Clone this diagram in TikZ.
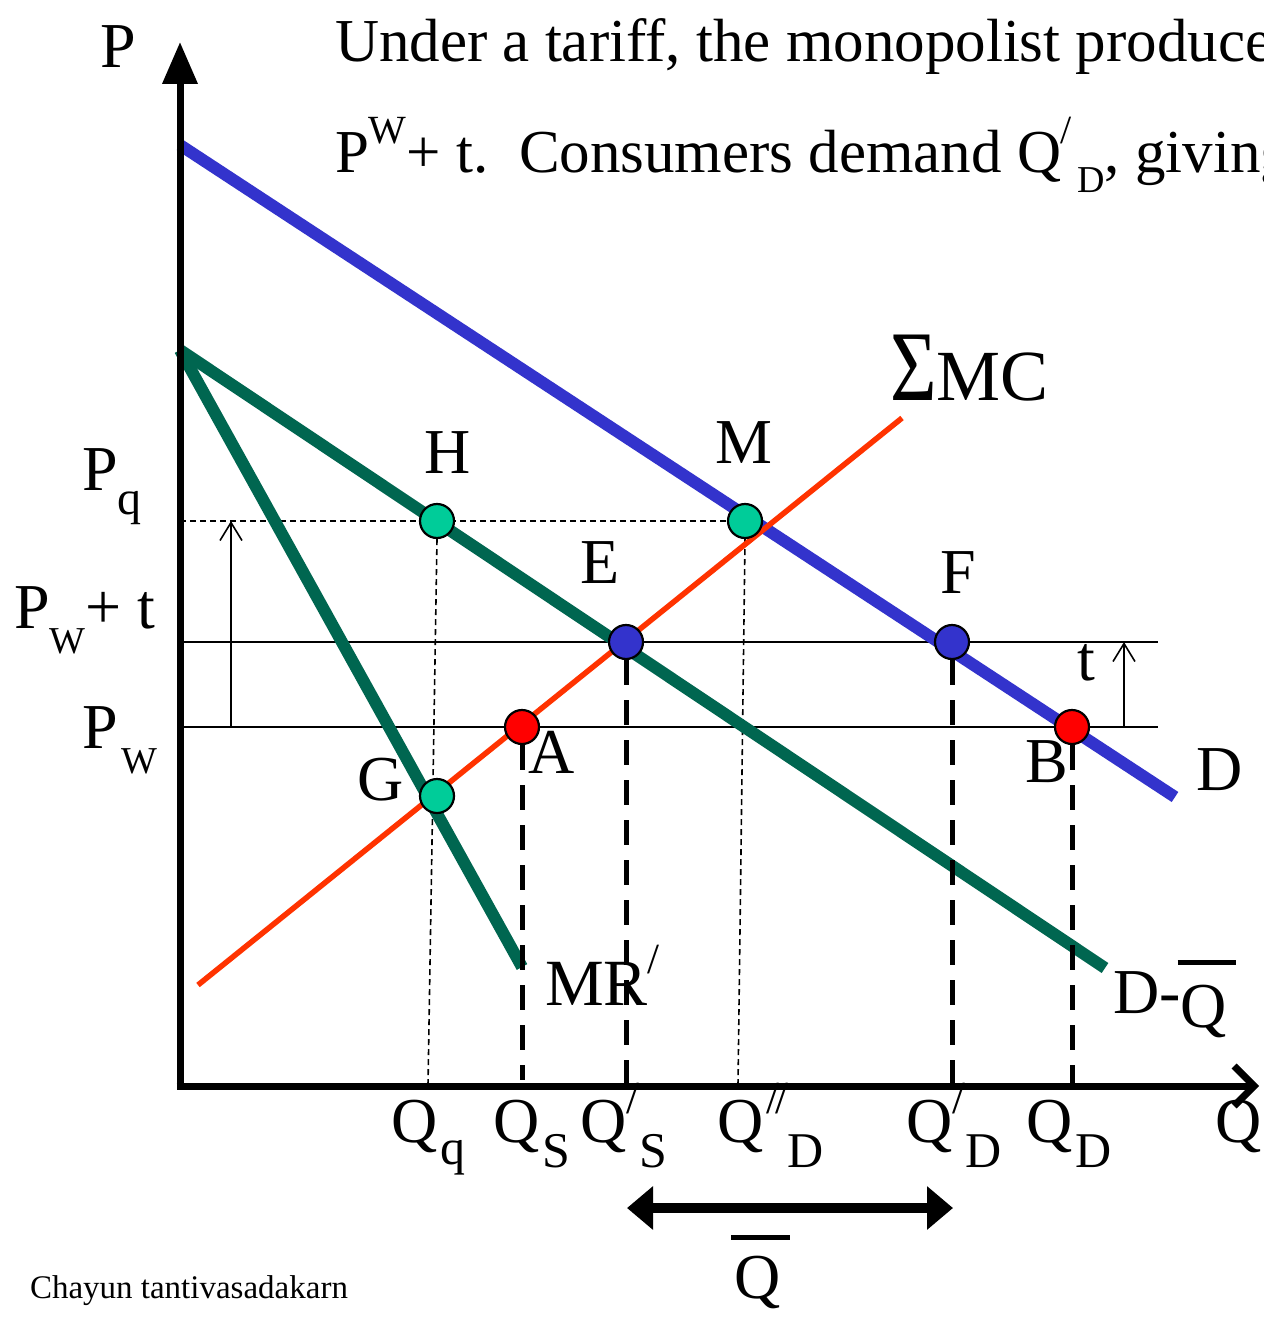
\documentclass[tikz,border=0pt]{standalone}
\usepackage{fontspec}
\setmainfont{Liberation Serif}
\usetikzlibrary{arrows.meta}
\definecolor{dblue}{HTML}{3333CC}
\definecolor{dgreen}{HTML}{006650}
\definecolor{mcred}{HTML}{FF3300}
\definecolor{tealdot}{HTML}{00CC99}
\definecolor{reddot}{HTML}{FF0000}
\newcommand{\fs}[1]{\fontsize{#1}{#1}\selectfont}
\frenchspacing
\begin{document}
\begin{tikzpicture}[x=1pt,y=-1pt,
  dot/.style={circle,draw=black,line width=2.2pt,minimum size=34pt,inner sep=0pt},
  lbl/.style={anchor=base west,inner sep=0pt,outer sep=0pt,font=\fs{64}},
  axis/.style={line width=7pt},
  curve/.style={line width=12pt},
  level/.style={line width=2pt},
  thindash/.style={line width=1.6pt,dash pattern=on 6pt off 4pt},
  thickdash/.style={line width=5pt,dash pattern=on 25pt off 15pt},
  uparrow/.style={line width=1.6pt,-{Straight Barb[length=18pt,width=22pt,line width=1.6pt]}}
]
\useasboundingbox (0,0) rectangle (1263,1319);
\fill[white] (0,0) rectangle (1263,1319);

% coordinates
\coordinate (Ybot) at (180,1089.5);
\coordinate (Ytop) at (180,42);
\coordinate (Xbeg) at (176.5,1086);
\coordinate (Xend) at (1259,1086);
\coordinate (Dl) at (180,145);
\coordinate (Dr) at (1175,797);
\coordinate (Gl) at (180,350);
\coordinate (DQr) at (1105,968);
\coordinate (MRr) at (522,967);
\coordinate (MCl) at (198,985);
\coordinate (MCr) at (902,418);
\coordinate (PWt0) at (180,642);
\coordinate (PWt1) at (1158,642);
\coordinate (PW0) at (180,727);
\coordinate (PW1) at (1158,727);
\coordinate (Pq0) at (180,521);
\coordinate (La0) at (231,727);
\coordinate (La1) at (231,521);
\coordinate (Ra0) at (1124,727);
\coordinate (Ra1) at (1124,642);
\coordinate (Hq) at (428,1085);
\coordinate (Mq) at (738,1085);
\coordinate (Aq) at (522,1080);
\coordinate (Eq) at (626,1083);
\coordinate (Fq) at (952,1083);
\coordinate (Bq) at (1072,1085);
\coordinate (Qb0) at (627,1208);
\coordinate (Qb1) at (953,1208);

% dot nodes (placed first as names, drawn again on top)
\path (437,521) node[dot,draw=none] (H) {}
      (745,521) node[dot,draw=none] (M) {}
      (626,642) node[dot,draw=none] (E) {}
      (952,642) node[dot,draw=none] (F) {}
      (522,727) node[dot,draw=none] (A) {}
      (1072,727) node[dot,draw=none] (B) {}
      (437,796) node[dot,draw=none] (G) {};

% price levels
\draw[level] (PWt0) -- (PWt1);
\draw[level] (PW0) -- (PW1);
\draw[thindash] (Pq0) -- (M.west);
\draw[uparrow] (La0) -- (La1);
\draw[uparrow] (Ra0) -- (Ra1);
\draw[thindash] (H.south) -- (Hq);
\draw[thindash] (M.south) -- (Mq);

% curves
\draw[curve,dblue] (Dl) -- (Dr);
\draw[curve,dgreen] (Gl) -- (DQr);
\draw[curve,dgreen] (Gl) -- (MRr);
\draw[line width=5.5pt,mcred] (MCl) -- (MCr);

% thick dashed quantity lines
\draw[thickdash] (A.south) -- (Aq);
\draw[thickdash] (E.south) -- (Eq);
\draw[thickdash] (F.south) -- (Fq);
\draw[thickdash] (B.south) -- (Bq);

% axes
\draw[axis,-{Triangle[length=42pt,width=34pt]}] (Ybot) -- (Ytop);
\draw[axis,-{Straight Barb[length=20pt,width=40pt,line width=7pt]}] (Xbeg) -- (Xend);

% dots
\node[dot,fill=tealdot] at (H) {};
\node[dot,fill=tealdot] at (M) {};
\node[dot,fill=dblue] at (E) {};
\node[dot,fill=dblue] at (F) {};
\node[dot,fill=reddot] at (A) {};
\node[dot,fill=reddot] at (B) {};
\node[dot,fill=tealdot] at (G) {};

% double arrow Qbar
\draw[line width=10pt,{Triangle[length=26pt,width=42pt]}-{Triangle[length=26pt,width=42pt]}] (Qb0) -- (Qb1);

% title text
\node[lbl,font=\fs{61}] (t1) at (335,62) {Under a tariff, the monopolist produce};
\node[lbl,font=\fs{61}] (t2) at (335,172) {P\raisebox{29pt}{\fs{40}W}+ t.\ \ Consumers demand Q\kern-1pt\raisebox{29pt}{\fs{40}/}\kern6pt\raisebox{-20pt}{\fs{38}D}, giving};

% axis labels
\node[lbl] (Plab) at (100,68) {P};
\node[lbl] (Qlab) at (1215,1142) {Q};

% price labels
\node[lbl] (Pq) at (82,490) {P\raisebox{-24pt}{\fs{48}q}};
\node[lbl] (Pwt) at (14,628) {P\raisebox{-25pt}{\fs{38}W}+ t};
\node[lbl] (Pw) at (82,748) {P\kern4pt\raisebox{-25pt}{\fs{38}W}};

% point labels
\node[lbl] (Hl) at (424,473) {H};
\node[lbl] (Ml) at (715,463) {M};
\node[lbl] (El) at (580,583) {E};
\node[lbl] (Fl) at (940,593) {F};
\node[lbl] (Al) at (528,773) {A};
\node[lbl] (Bl) at (1025,782) {B};
\node[lbl] (Gl2) at (357,800) {G};
\node[lbl] (tl) at (1077,680) {t};
\node[lbl] (Dlab) at (1196,790) {D};

% curve labels
\node[lbl] (MClab) at (890,400) {\scalebox{0.8}[1]{\fs{100}Σ}\fs{72}MC};
\node[lbl,font=\fs{66}] (MRlab) at (545,1005) {MR\raisebox{32pt}{\fs{43}/}};
\node[lbl] (DQlab) at (1113,1013) {D-\raisebox{-14pt}{\makebox[0pt][l]{\hspace{-3pt}\raisebox{62pt}{\rule{58pt}{5pt}}}Q}};

% quantity labels
\node[lbl] (Qq) at (391,1142) {Q\kern3pt\raisebox{-22pt}{\fs{50}q}};
\node[lbl] (Qs) at (493,1142) {Q\kern3pt\raisebox{-25pt}{\fs{50}S}};
\node[lbl] (Qs2) at (580,1142) {Q\raisebox{29pt}{\fs{46}/}\raisebox{-25pt}{\fs{50}S}};
\node[lbl] (Qd2) at (717,1142) {Q\kern3pt\raisebox{29pt}{\fs{46}/\kern-4pt/}\raisebox{-25pt}{\fs{50}D}};
\node[lbl] (Qd1) at (906,1142) {Q\raisebox{29pt}{\fs{46}/}\raisebox{-25pt}{\fs{50}D}};
\node[lbl] (Qd) at (1026,1142) {Q\kern3pt\raisebox{-25pt}{\fs{50}D}};
\node[lbl] (Qbar) at (734,1298) {\makebox[0pt][l]{\hspace{-3pt}\raisebox{58pt}{\rule{59pt}{5pt}}}Q};

% credit
\node[lbl,font=\fs{33}] (credit) at (30,1298) {Chayun tantivasadakarn};
\end{tikzpicture}
\end{document}
